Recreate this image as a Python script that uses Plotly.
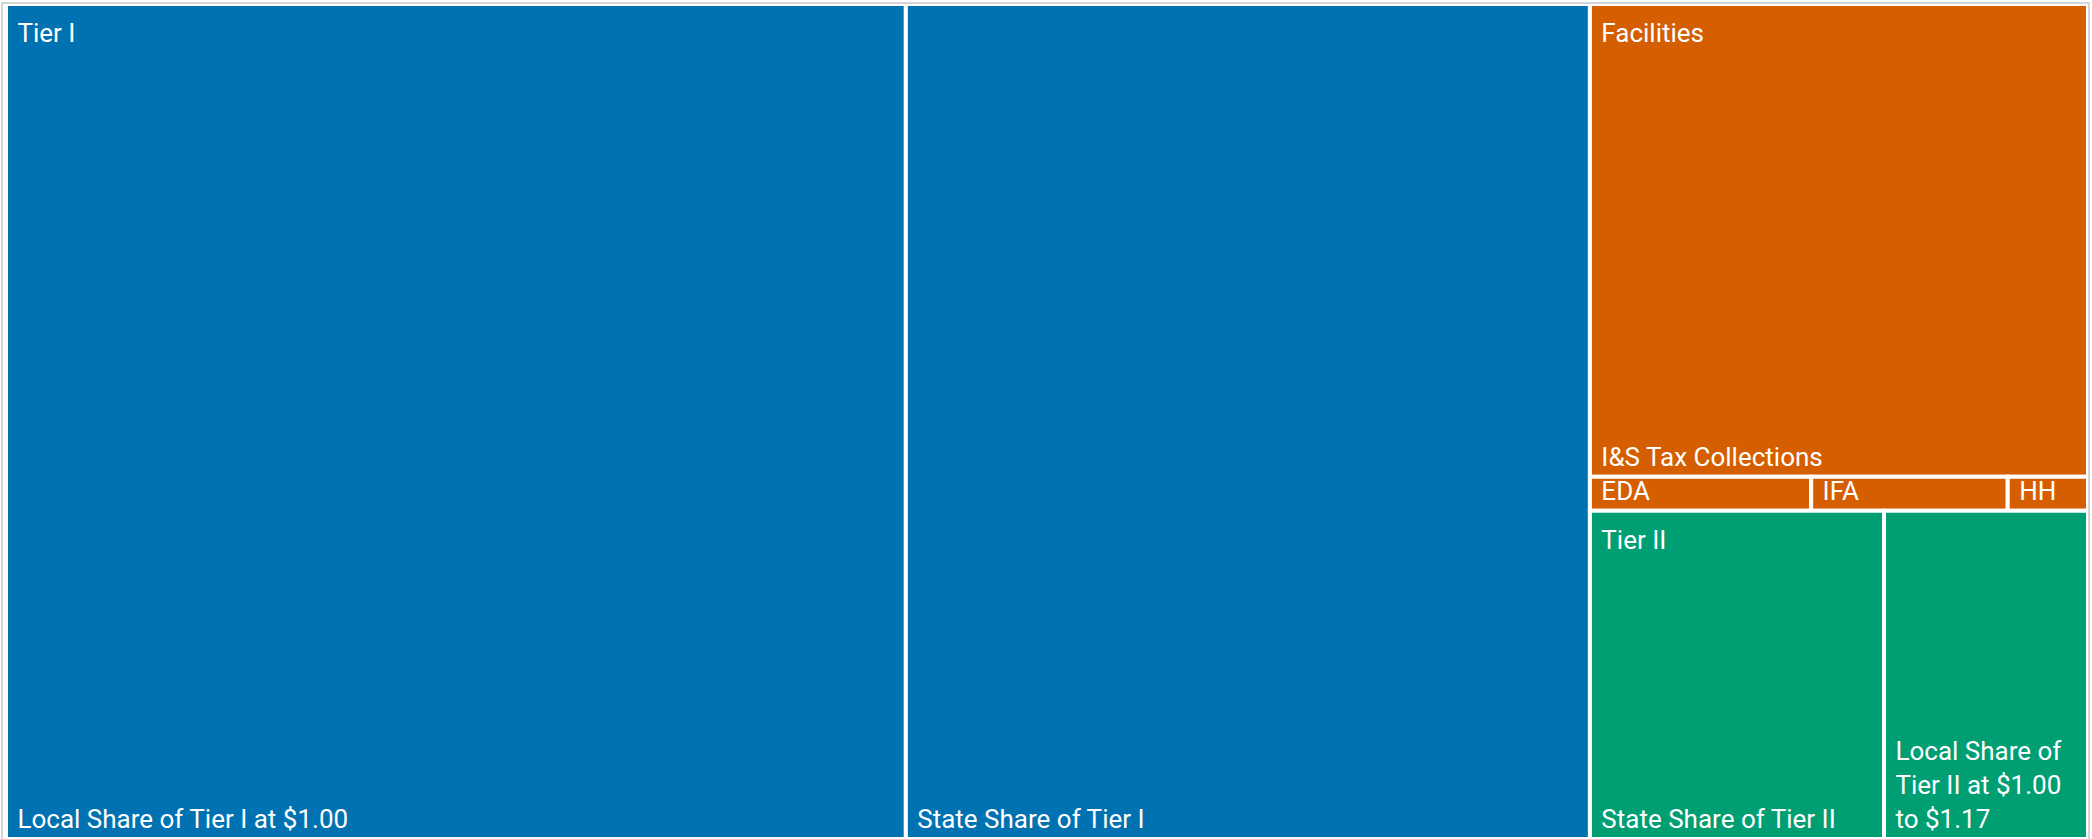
import plotly.graph_objects as go

# ---- data ($ millions, read from tile areas) ----
groups = ["Tier I", "Facilities", "Tier II"]
group_colors = ["#0072B2", "#D55E00", "#009E73"]

items = [
    "Local Share of Tier I at $1.00",
    "State Share of Tier I",
    "I&S Tax Collections",
    "EDA",
    "IFA",
    "HH",
    "State Share of Tier II",
    "Local Share of Tier II at $1.00 to $1.17",
]
item_groups = ["Tier I", "Tier I", "Facilities", "Facilities", "Facilities",
               "Facilities", "Tier II", "Tier II"]
item_values = [21520, 16360, 6745, 215, 191, 78, 2765, 1918]
item_display = [
    "Local Share of Tier I at $1.00",
    "State Share of Tier I",
    "I&S Tax Collections",
    "EDA",
    "IFA",
    "HH",
    "State Share of Tier II",
    "Local Share of<br>Tier II at $1.00<br>to $1.17",
]

FONT = "Roboto"
FS = 26
PADL = '<span style="font-size:34px">\u00a0</span>'
PADT = '<span style="font-size:1px">\u00a0</span><br>'


def bottom_label(s):
    return "<br>".join(PADL + line for line in s.split("<br>"))


def top_label(s):
    return PADT + PADL + s


# ---- build hierarchy ----
ids, labels, parents, values, colors = [], [], [], [], []
bottom_text, top_text = [], []
for g, c in zip(groups, group_colors):
    ids.append(g)
    labels.append(g)
    parents.append("")
    values.append(sum(v for v, ig in zip(item_values, item_groups) if ig == g))
    colors.append(c)
    bottom_text.append("")
    top_text.append("")

seen = set()
for name, g, v, disp in zip(items, item_groups, item_values, item_display):
    ids.append(g + "/" + name)
    labels.append(name)
    parents.append(g)
    values.append(v)
    colors.append(group_colors[groups.index(g)])
    bottom_text.append(bottom_label(disp))
    if g not in seen:
        top_text.append(top_label(g))
        seen.add(g)
    else:
        top_text.append("")

common = dict(
    ids=ids, labels=labels, parents=parents, values=values,
    branchvalues="total", sort=True,
    tiling=dict(packing="squarify", squarifyratio=1, pad=0),
    pathbar=dict(visible=False),
    textfont=dict(family=FONT, size=FS, color="white"),
)

fig = go.Figure()
fig.add_trace(go.Treemap(
    **common,
    marker=dict(colors=colors, line=dict(color="white", width=4),
                pad=dict(t=0, l=0, r=0, b=0), depthfade=False),
    texttemplate=bottom_text,
    textposition="bottom left",
    hovertemplate="%{label}<br>%{value:,}<extra></extra>",
))
fig.add_trace(go.Treemap(
    **common,
    marker=dict(colors=["rgba(0,0,0,0)"] * len(ids),
                line=dict(color="rgba(0,0,0,0)", width=0),
                pad=dict(t=0, l=0, r=0, b=0), depthfade=False),
    texttemplate=top_text,
    textposition="top left",
    hoverinfo="skip",
))

W, H = 2092, 839
ml, mr, mt, mb = 6, 4, 4, 0
pw, ph = W - ml - mr, H - mt - mb
fig.update_layout(
    width=W, height=H,
    margin=dict(l=ml, r=mr, t=mt, b=mb, pad=0),
    paper_bgcolor="white",
    font=dict(family=FONT, color="white"),
    uniformtext=dict(minsize=FS, mode="show"),
    shapes=[dict(type="rect", xref="paper", yref="paper",
                 x0=-4 / pw, x1=1 + 1 / pw, y0=-0.02, y1=1 + 1 / ph,
                 line=dict(color="#c8c8c8", width=1.5), layer="above")],
)

fig.write_html("out.html", config={"displayModeBar": False},
               post_script="document.body.style.margin='0';")
